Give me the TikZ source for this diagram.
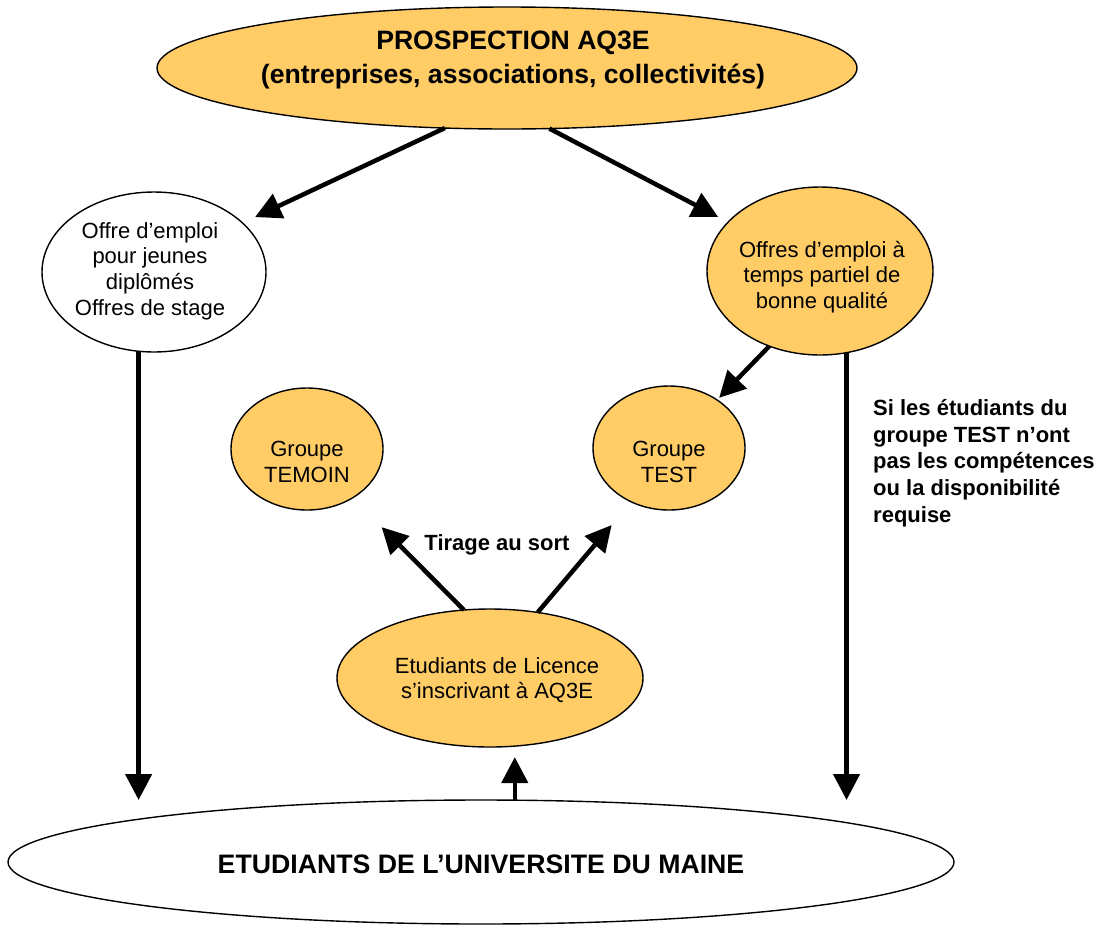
\documentclass[tikz,border=0pt]{standalone}
\usepackage{fontspec}
\setmainfont{Liberation Sans}
\usetikzlibrary{arrows.meta,shapes.geometric}
\definecolor{boxorange}{RGB}{255,204,102}
\begin{document}
\begin{tikzpicture}[x=1pt,y=-1pt,
  bubble/.style={ellipse, draw=black, line width=1.4pt, inner sep=0pt, outer sep=0pt},
  orangebubble/.style={bubble, fill=boxorange},
  whitebubble/.style={bubble, fill=white},
  txt/.style={align=center, inner sep=0pt, font=\fontsize{22}{25.7}\selectfont},
  btxt/.style={inner sep=0pt, font=\bfseries\fontsize{22}{26.7}\selectfont},
  bigtxt/.style={align=center, inner sep=0pt, font=\bfseries\fontsize{26.6}{33.5}\selectfont},
  arr/.style={line width=4.5pt, -{Triangle[length=26pt,width=26pt]}}
]
\useasboundingbox (0,0) rectangle (1110,927);

% shapes
\node[orangebubble, minimum width=700pt, minimum height=122pt] (top) at (507,68) {};
\node[whitebubble, minimum width=224pt, minimum height=160pt] (offre) at (154,272) {};
\node[orangebubble, minimum width=226pt, minimum height=168pt] (partiel) at (820,271) {};
\node[orangebubble, minimum width=152pt, minimum height=122pt] (temoin) at (307,449) {};
\node[orangebubble, minimum width=152pt, minimum height=124pt] (test) at (669,448) {};
\node[orangebubble, minimum width=306pt, minimum height=138pt] (licence) at (490,678) {};
\node[whitebubble, minimum width=946pt, minimum height=124pt] (univ) at (481,862) {};

% texts
\node[bigtxt] (ttop) at (513,60) {PROSPECTION AQ3E\\(entreprises, associations, collectivités)};
\node[txt] (toffre) at (150,271) {Offre d’emploi\\pour jeunes\\diplômés\\Offres de stage};
\node[txt] (tpartiel) at (822,277) {Offres d’emploi à\\temps partiel de\\bonne qualité};
\node[txt] (ttemoin) at (307,462) {Groupe\\TEMOIN};
\node[txt] (ttest) at (669,462) {Groupe\\TEST};
\node[btxt] (ttirage) at (497,545) {Tirage au sort};
\node[txt] (tlicence) at (497,680) {Etudiants de Licence\\s’inscrivant à AQ3E};
\node[inner sep=0pt, font=\bfseries\fontsize{26.7}{30}\selectfont] (tuniv) at (481,864) {ETUDIANTS DE L’UNIVERSITE DU MAINE};
\node[btxt, align=left, anchor=west] (tnote) at (873,463) {Si les étudiants du\\groupe TEST n’ont\\pas les compétences\\ou la disponibilité\\requise};

% connectors
\draw[arr, shorten >=13.9pt] (top.224) -- (offre.29);
\draw[arr, shorten >=11.3pt] (top.305) -- (partiel.152);
\draw[arr, shorten >=3pt] (partiel.236) -- (test.45.5);
\draw[arr] (offre.259) -- (offre.259 |- univ.north);
\draw[arr] (partiel.288) -- (partiel.288 |- univ.north);
\draw[arr, shorten >=41.3pt] (licence.111) -- (temoin.313.4);
\draw[arr, shorten >=30.4pt] (licence.54) -- (test.235.4);
\draw[arr, shorten >=11pt] (licence.290 |- univ.north) -- (licence.290);
\end{tikzpicture}
\end{document}
